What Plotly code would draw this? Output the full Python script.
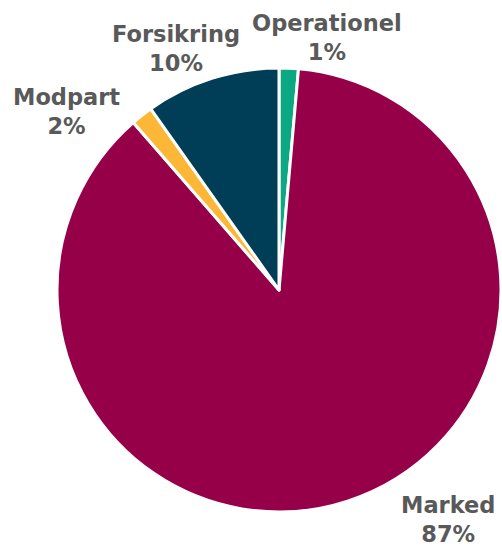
import plotly.graph_objects as go

labels = ["Operationel", "Marked", "Modpart", "Forsikring"]
values = [1.4, 87.2, 1.6, 9.8]
pct_labels = ["1%", "87%", "2%", "10%"]
colors = ["#0BA883", "#960048", "#FDB737", "#003E58"]

W, H = 502, 548
fig = go.Figure(go.Pie(
    labels=labels, values=values, sort=False, direction="clockwise",
    rotation=0, textinfo="none", hoverinfo="label+percent",
    marker=dict(colors=colors, line=dict(color="white", width=3)),
    domain=dict(x=[57 / W, 501 / W], y=[1 - 512 / H, 1 - 68 / H]),
    showlegend=False,
))

label_pos = {"Operationel": (327, 37), "Forsikring": (176, 48),
             "Modpart": (66, 112), "Marked": (448, 519)}
for lab, pct in zip(labels, pct_labels):
    x, y = label_pos[lab]
    fig.add_annotation(x=x / W, y=1 - y / H, xref="paper", yref="paper",
                       text=f"<b>{lab}<br>{pct}</b>", showarrow=False,
                       font=dict(family="DejaVu Sans", size=22.5, color="#595959"),
                       align="center", xanchor="center", yanchor="middle")

fig.update_layout(width=W, height=H, margin=dict(l=0, r=0, t=0, b=0),
                  paper_bgcolor="white", plot_bgcolor="white")
fig.write_html("out.html", config={"displayModeBar": False},
               post_script="document.body.style.margin='0';document.body.style.overflow='hidden';")
